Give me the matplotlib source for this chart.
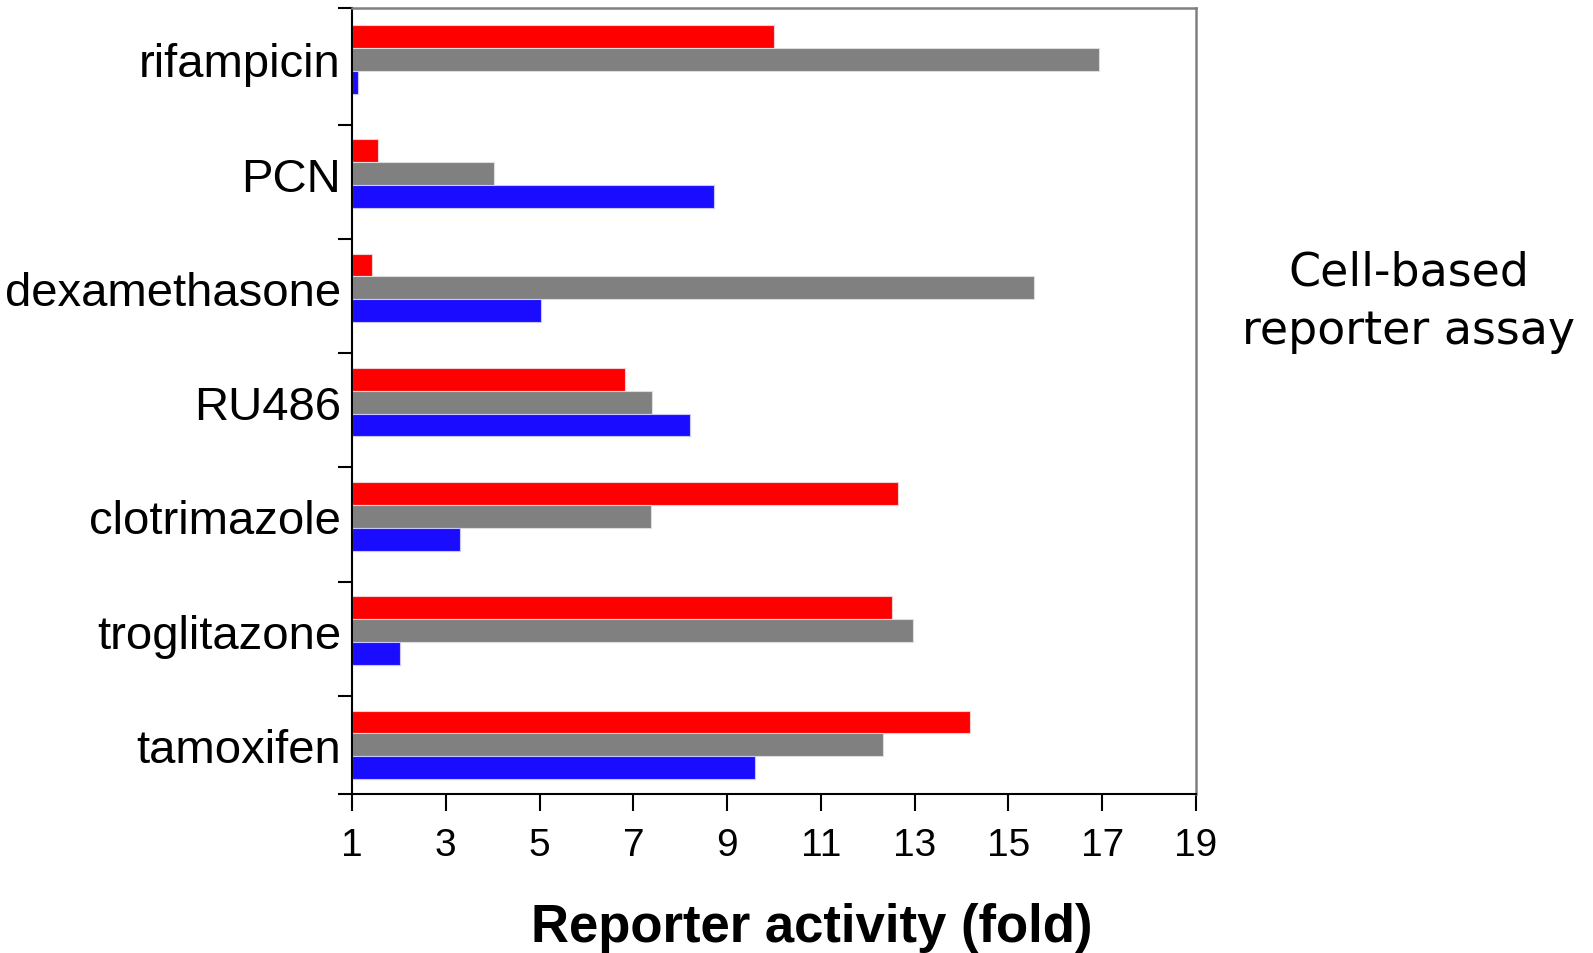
import matplotlib
matplotlib.use("Agg")
import matplotlib.pyplot as plt
import numpy as np
from matplotlib import font_manager

categories = ["rifampicin", "PCN", "dexamethasone", "RU486", "clotrimazole", "troglitazone", "tamoxifen"]
red_vals = [10.0, 1.55, 1.42, 6.83, 12.65, 12.52, 14.17]
gray_vals = [16.94, 4.03, 15.55, 7.39, 7.37, 12.96, 12.33]
blue_vals = [1.13, 8.71, 5.03, 8.21, 3.30, 2.02, 9.60]
xticks = [1, 3, 5, 7, 9, 11, 13, 15, 17, 19]

avail = {f.name for f in font_manager.fontManager.ttflist}
has_narrow = "Liberation Sans Narrow" in avail
narrow = "Liberation Sans Narrow" if has_narrow else "Liberation Sans"
xt_size = 32 if has_narrow else 28

W, H = 1593, 954
fig = plt.figure(figsize=(W / 100, H / 100), dpi=100)
l, r, t, b = 352, 1196, 9, 795
ax = fig.add_axes([l / W, 1 - b / H, (r - l) / W, (b - t) / H])

y = np.arange(len(categories))
bh = 0.2
base = 1.0
ax.barh(y - bh, np.array(red_vals) - base, height=bh, left=base, color="#FF0000",
        edgecolor="#f0d0d0", linewidth=0.8)
ax.barh(y, np.array(gray_vals) - base, height=bh, left=base, color="#808080",
        edgecolor="#dddddd", linewidth=0.8)
ax.barh(y + bh, np.array(blue_vals) - base, height=bh, left=base, color="#1A0DFF",
        edgecolor="#c8c8ff", linewidth=0.8)

ax.set_xlim(1, 19)
ax.set_ylim(6.43, -0.45)

ax.set_xticks(xticks)
ax.set_xticklabels([str(v) for v in xticks], fontfamily=narrow, fontsize=xt_size)
ax.tick_params(axis="x", direction="out", length=12, width=1.5, pad=12, color="black")

ax.set_yticks(y)
ax.set_yticklabels(categories, fontfamily="Liberation Sans", fontsize=34)
ax.tick_params(axis="y", which="major", length=0, pad=8)
ax.set_yticks([-0.45] + [i + 0.57 for i in range(6)] + [6.43], minor=True)
ax.tick_params(axis="y", which="minor", direction="out", length=10, width=1.5, color="black")

for side in ["left", "bottom"]:
    ax.spines[side].set_color("black")
    ax.spines[side].set_linewidth(1.5)
for side in ["top", "right"]:
    ax.spines[side].set_color("#808080")
    ax.spines[side].set_linewidth(1.8)

fig.text(812 / W, 1 - 928 / H, "Reporter activity (fold)", ha="center", va="center",
         fontfamily="Liberation Sans", fontweight="bold", fontsize=38)

fig.text(1409 / W, 1 - 302 / H, "Cell-based\nreporter assay", ha="center", va="center",
         fontfamily="DejaVu Sans", fontsize=33, linespacing=1.4)

fig.savefig("out.png", dpi=100)
